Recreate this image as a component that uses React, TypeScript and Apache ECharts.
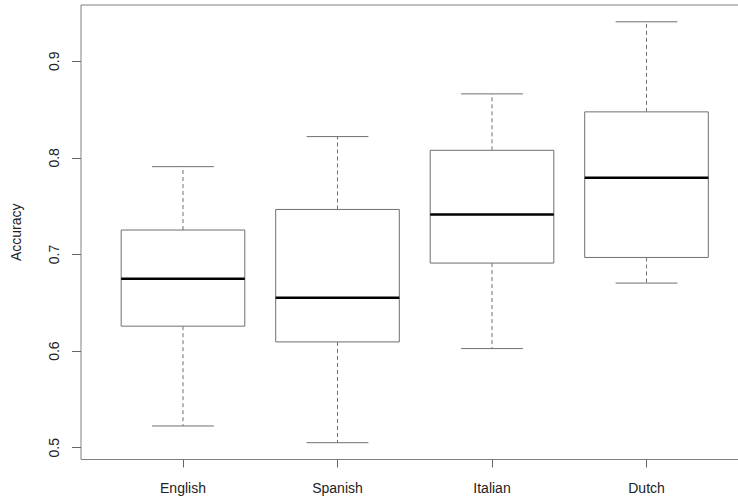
import React, { useEffect, useRef } from "react";
import * as echarts from "echarts";

const categories = ["English", "Spanish", "Italian", "Dutch"];
const mins = [0.5225, 0.5052, 0.6026, 0.6704];
const q1s = [0.6258, 0.6095, 0.6911, 0.6969];
const medians = [0.6748, 0.6551, 0.7415, 0.7795];
const q3s = [0.7253, 0.7466, 0.8078, 0.8476];
const maxs = [0.7909, 0.822, 0.8662, 0.9408];
const yTicks = [0.5, 0.6, 0.7, 0.8, 0.9];
const xTicks = [1, 2, 3, 4];

const FONT = "'Liberation Sans', Arial, Helvetica, sans-serif";

export default function App() {
  const ref = useRef<HTMLDivElement>(null);
  useEffect(() => {
    if (!ref.current) return;
    const chart = echarts.init(ref.current, null, { renderer: "svg" });
    const data = categories.map((_, i) => [i + 1, mins[i], q1s[i], medians[i], q3s[i], maxs[i]]);
    const boxColor = "#6f6f6f";
    chart.setOption({
      animation: false,
      backgroundColor: "#ffffff",
      grid: {
        left: 81,
        top: 5,
        width: 667.5,
        height: 454.5,
        outerBoundsMode: "none",
        containLabel: false,
        show: true,
        borderColor: "#808080",
        borderWidth: 1,
        backgroundColor: "transparent",
      },
      xAxis: {
        type: "value",
        min: 0.34,
        max: 4.66,
        splitLine: { show: false },
        axisLine: { show: false },
        axisTick: {
          show: true,
          customValues: xTicks,
          length: 8,
          inside: false,
          lineStyle: { color: "#666666", width: 1 },
        },
        axisLabel: {
          customValues: xTicks,
          formatter: (v: number) => categories[Math.round(v) - 1] ?? "",
          margin: 21,
          fontSize: 14,
          color: "#222222",
          fontFamily: FONT,
        },
      },
      yAxis: {
        type: "value",
        min: 0.4878,
        max: 0.9582,
        name: "Accuracy",
        nameLocation: "middle",
        nameRotate: 90,
        nameGap: 58,
        nameTextStyle: { fontSize: 14, color: "#222222", fontFamily: FONT },
        splitLine: { show: false },
        axisLine: { show: false },
        axisTick: {
          show: true,
          customValues: yTicks,
          length: 9,
          lineStyle: { color: "#666666", width: 1 },
        },
        axisLabel: {
          customValues: yTicks,
          formatter: (v: number) => v.toFixed(1),
          rotate: 90,
          margin: 20,
          fontSize: 14,
          color: "#222222",
          fontFamily: FONT,
        },
      },
      series: [
        {
          type: "custom",
          data,
          encode: { x: 0, y: [1, 2, 3, 4, 5] },
          renderItem: (params: any, api: any) => {
            const x = api.value(0);
            const pMin = api.coord([x, api.value(1)]);
            const pQ1 = api.coord([x, api.value(2)]);
            const pMed = api.coord([x, api.value(3)]);
            const pQ3 = api.coord([x, api.value(4)]);
            const pMax = api.coord([x, api.value(5)]);
            const w = api.size([0.8, 0])[0];
            const cx = pMed[0];
            const dash = { stroke: boxColor, lineWidth: 1, lineDash: [4, 3] };
            const solid = { stroke: boxColor, lineWidth: 1 };
            return {
              type: "group",
              children: [
                { type: "line", shape: { x1: cx, y1: pQ3[1], x2: cx, y2: pMax[1] }, style: dash },
                { type: "line", shape: { x1: cx, y1: pQ1[1], x2: cx, y2: pMin[1] }, style: dash },
                { type: "line", shape: { x1: cx - w / 4, y1: pMax[1], x2: cx + w / 4, y2: pMax[1] }, style: solid },
                { type: "line", shape: { x1: cx - w / 4, y1: pMin[1], x2: cx + w / 4, y2: pMin[1] }, style: solid },
                {
                  type: "rect",
                  shape: { x: cx - w / 2, y: pQ3[1], width: w, height: pQ1[1] - pQ3[1] },
                  style: { fill: "#ffffff", stroke: boxColor, lineWidth: 1 },
                },
                {
                  type: "line",
                  shape: { x1: cx - w / 2, y1: pMed[1], x2: cx + w / 2, y2: pMed[1] },
                  style: { stroke: "#000000", lineWidth: 2.5 },
                },
              ],
            };
          },
        },
      ],
    });
    return () => chart.dispose();
  }, []);
  return (
    <div
      ref={ref}
      style={{ position: "absolute", left: 0, top: 0, width: 738, height: 500 }}
    />
  );
}
